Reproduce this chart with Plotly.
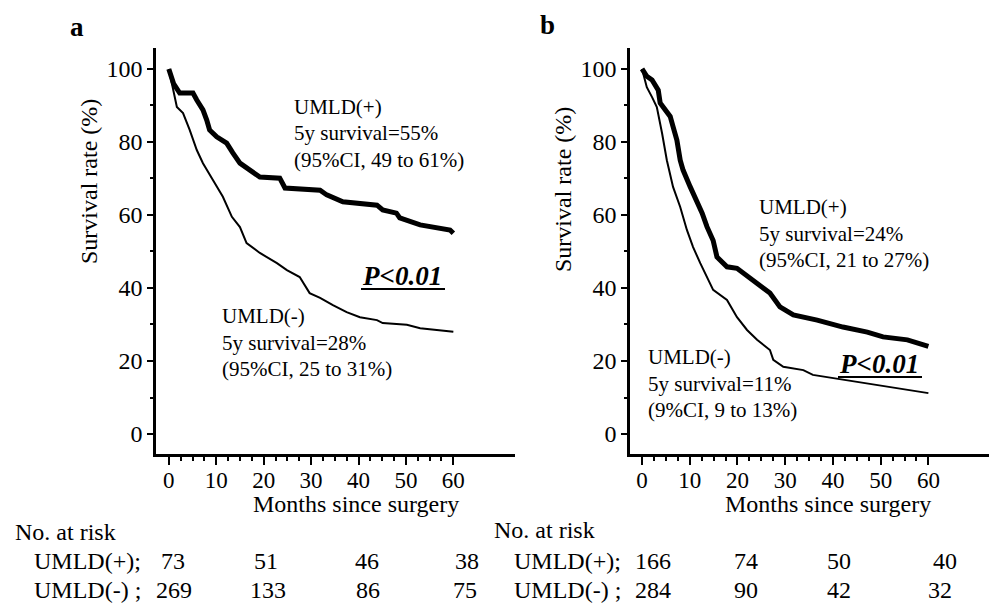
import plotly.graph_objects as go

# ---------------- data ----------------
a_pos_months = [0, 1, 2.3, 5.1, 5.9, 7.2, 8, 8.6, 10.1, 12.2, 13.5, 15, 17.1, 19.2, 23.4, 24.5,
                31.9, 33.3, 36.7, 43.9, 45.1, 48, 48.7, 51.5, 53, 59.3, 60]
a_pos_surv = [100, 96, 93.4, 93.4, 91.5, 88.8, 86, 83.3, 81.4, 79.7, 77, 74.2, 72.3, 70.4, 70.1, 67.4,
              66.8, 65.5, 63.6, 62.7, 61.4, 60.5, 59.2, 58, 57.3, 55.9, 55]

a_neg_months = [0, 0.9, 1.7, 3, 4.4, 5.9, 7.2, 9.3, 11.4, 13.3, 15, 16.4, 19.2, 22.8, 24.9, 27.6,
                29.7, 31.9, 34.6, 37.5, 40.3, 43.9, 45.1, 50.2, 53, 56.5, 60]
a_neg_surv = [100, 94, 89.6, 87.9, 83.3, 77.8, 74.2, 69.6, 65, 59.5, 56.7, 52.3, 49.6, 46.8, 44.9, 43,
              38.6, 37.3, 35.3, 33.4, 32, 31.2, 30.4, 29.9, 29, 28.5, 28]

b_pos_months = [0, 1, 2.1, 3.4, 3.8, 5.9, 6.5, 7.3, 8, 8.6, 10.1, 11.5, 12.6, 13.6, 14.9, 15.7,
                17.8, 19.9, 23.3, 26.8, 28.9, 31.7, 36.7, 42.1, 47.2, 50.5, 55.6, 59.7, 60]
b_pos_surv = [100, 98, 97, 94.2, 90.7, 87, 84.2, 80.5, 75, 72.3, 67.7, 64, 60.5, 56.8, 53, 48.5,
              45.8, 45.4, 42.2, 38.6, 34.8, 32.6, 31.2, 29.3, 27.9, 26.6, 25.8, 24.1, 24]

b_neg_months = [0, 1, 2.1, 3.1, 4.2, 5.2, 6.5, 8, 9.4, 10.7, 12.2, 14.9, 17.8, 19.9, 22, 24.1,
                26.8, 27.5, 29.6, 33.8, 35.8, 41.5, 46.3, 51.4, 56.2, 59.7, 60]
b_neg_surv = [100, 95, 92.3, 89.6, 82.4, 75, 67.7, 62.2, 55.9, 51.2, 46.8, 39.5, 36.7, 32, 28.5, 25.8,
              23, 20.3, 18.4, 17.5, 16.2, 15, 14, 12.9, 12, 11.2, 11.2]

x_ticks = [0, 10, 20, 30, 40, 50, 60]
x_minor = [2.5, 5, 7.5, 12.5, 15, 17.5, 22.5, 25, 27.5, 32.5, 35, 37.5,
           42.5, 45, 47.5, 52.5, 55, 57.5]
y_ticks = [0, 20, 40, 60, 80, 100]
y_minor = [10, 30, 50, 70, 90]

risk_a_pos = [73, 51, 46, 38]
risk_a_neg = [269, 133, 86, 75]
risk_b_pos = [166, 74, 50, 40]
risk_b_neg = [284, 90, 42, 32]

text_a_pos = ["UMLD(+)", "5y survival=55%", "(95%CI, 49 to 61%)"]
text_a_neg = ["UMLD(-)", "5y survival=28%", "(95%CI, 25 to 31%)"]
text_b_pos = ["UMLD(+)", "5y survival=24%", "(95%CI, 21 to 27%)"]
text_b_neg = ["UMLD(-)", "5y survival=11%", "(9%CI, 9 to 13%)"]

# ---------------- figure ----------------
W, H = 989, 603
FONT = "Liberation Serif, Times New Roman, serif"


def px(x, y):
    return x / W, 1 - y / H


fig = go.Figure()
for xs, ys, w, ax in [
    (a_neg_months, a_neg_surv, 2, ("x", "y")),
    (a_pos_months, a_pos_surv, 5, ("x", "y")),
    (b_neg_months, b_neg_surv, 2, ("x2", "y2")),
    (b_pos_months, b_pos_surv, 5, ("x2", "y2")),
]:
    fig.add_trace(go.Scatter(x=xs, y=ys, mode="lines", xaxis=ax[0], yaxis=ax[1],
                             line=dict(color="black", width=w, shape="linear"),
                             showlegend=False, hoverinfo="skip"))

ydom = [(H - 454) / H, (H - 48) / H]


def xaxis(dom, rng, anchor):
    return dict(domain=dom, range=rng, anchor=anchor, showline=True, linecolor="black",
                linewidth=2.5, ticks="outside", tickvals=x_ticks, ticktext=[str(v) for v in x_ticks],
                ticklen=8, tickwidth=2, tickcolor="black", showgrid=False, zeroline=False,
                ticklabelstandoff=-4,
                tickfont=dict(family=FONT, size=23, color="black"),
                minor=dict(tickvals=x_minor, ticks="outside", ticklen=4, tickwidth=1.5,
                           tickcolor="black", showgrid=False))


def yaxis(anchor):
    return dict(domain=ydom, range=[-5.48, 105.75], anchor=anchor, showline=True,
                linecolor="black", linewidth=2.5, ticks="outside", tickvals=y_ticks,
                ticktext=[str(v) for v in y_ticks], ticklen=6, tickwidth=2, tickcolor="black",
                showgrid=False, zeroline=False,
                tickfont=dict(family=FONT, size=24, color="black"),
                minor=dict(tickvals=y_minor, ticks="outside", ticklen=3, tickwidth=1.5,
                           tickcolor="black", showgrid=False))


fig.update_layout(
    width=W, height=H, autosize=False, margin=dict(l=0, r=0, t=0, b=0),
    paper_bgcolor="white", plot_bgcolor="white", showlegend=False,
    xaxis=xaxis([156 / W, 515 / W], [-2.7, 73], "y"),
    yaxis=yaxis("x"),
    xaxis2=xaxis([630 / W, 1.0], [-2.52, 72.7], "y2"),
    yaxis2=yaxis("x2"),
)

ann = []


def add_text(text, x, y, size=21, xanchor="left", angle=0):
    px_, py_ = px(x, y)
    ann.append(dict(text=text, x=px_, y=py_, xref="paper", yref="paper", showarrow=False,
                    xanchor=xanchor, yanchor="middle", textangle=angle,
                    font=dict(family=FONT, size=size, color="black")))


# panel labels
add_text("<b>a</b>", 77, 27, 27, "center")
add_text("<b>b</b>", 547, 25, 27, "center")
# axis titles
add_text("Survival rate (%)", 89, 182, 24, "center", -90)
add_text("Survival rate (%)", 563, 190, 24, "center", -90)
add_text("Months since surgery", 356, 504, 24, "center")
add_text("Months since surgery", 828, 504, 24, "center")

for lines, x0, y0 in [(text_a_pos, 292, 107), (text_a_neg, 220, 316),
                      (text_b_pos, 757, 207), (text_b_neg, 646, 357)]:
    for i, t in enumerate(lines):
        add_text(t, x0, y0 + i * 26.5, 21)

# P values
add_text("<b><i>P&lt;0.01</i></b>", 360, 276, 27)
add_text("<b><i>P&lt;0.01</i></b>", 837, 364, 27)

# numbers at risk
add_text("No. at risk", 13, 532, 24)
add_text("UMLD(+);", 32, 561, 24)
add_text("UMLD(-) ;", 32, 590, 24)
add_text("No. at risk", 492, 530, 24)
add_text("UMLD(+);", 512, 561, 24)
add_text("UMLD(-) ;", 512, 590, 24)
for vals, xs, y in [(risk_a_pos, [173, 266, 367, 467], 561), (risk_a_neg, [174, 268, 368, 465], 590),
                    (risk_b_pos, [653, 746, 839, 945], 561), (risk_b_neg, [653, 746, 839, 940], 590)]:
    for v, x in zip(vals, xs):
        add_text(str(v), x, y, 24, "center")

fig.update_layout(annotations=ann)

# underlines for P values
for x0, x1, y in [(361, 445, 289), (838, 922, 377)]:
    a0 = px(x0, y)
    a1 = px(x1, y)
    fig.add_shape(type="line", xref="paper", yref="paper", x0=a0[0], y0=a0[1], x1=a1[0], y1=a1[1],
                  line=dict(color="black", width=2))

fig.write_html("out.html")
